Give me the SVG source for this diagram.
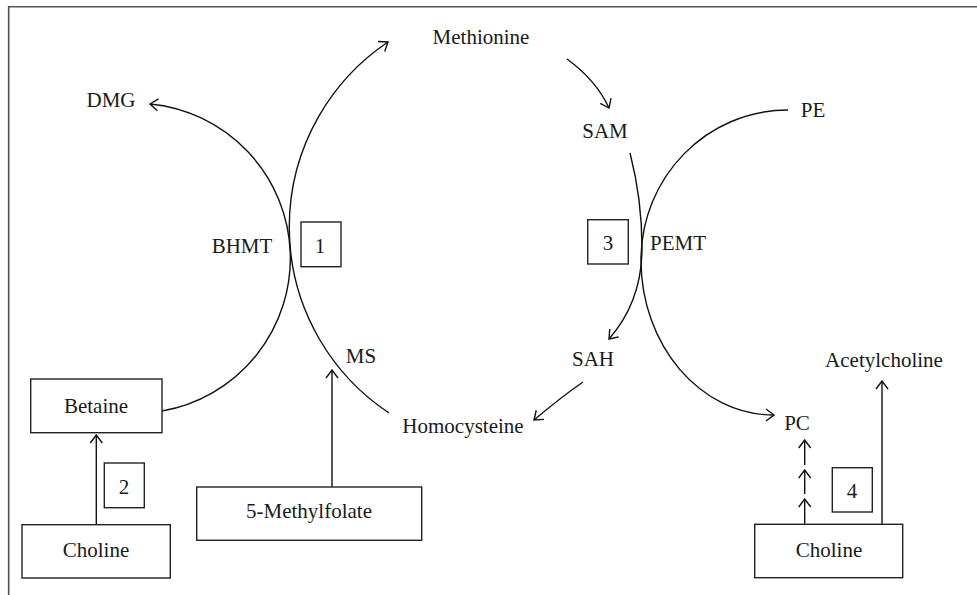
<svg xmlns="http://www.w3.org/2000/svg" width="977" height="595" viewBox="0 0 977 595">
<style>
text{font-family:"Liberation Serif","Times New Roman",serif;font-size:21px;fill:#1a1a1a;text-anchor:middle}
.box{fill:#fff;stroke:#222;stroke-width:1.4}
.c{fill:none;stroke:#111;stroke-width:1.4}
.frame{fill:none;stroke:#555;stroke-width:1.6}
</style>
<defs>
<marker id="ah" viewBox="0 0 10 14" refX="9" refY="7" markerWidth="10" markerHeight="14" markerUnits="userSpaceOnUse" orient="auto">
<path d="M1,1 L9,7 L1,13" fill="none" stroke="#111" stroke-width="1.4"/>
</marker>
</defs>
<rect width="977" height="595" fill="#fff"/>
<path class="frame" d="M8.7,600 L8.7,6.8 L980,6.8"/>
<g id="connectors">
<path class="c" d="M162,411 A155,155 0 0 0 150,104" marker-end="url(#ah)"/>
<path class="c" d="M389,413 A223,223 0 0 1 388,42" marker-end="url(#ah)"/>
<path class="c" d="M567,59 Q596,80 609,108" marker-end="url(#ah)"/>
<path class="c" d="M630,153 C637,180 642,215 642,248 C642,285 630,315 609,339" marker-end="url(#ah)"/>
<path class="c" d="M788,110 C706.8,110 641,177 641,260 C641,345.6 700.5,415 774,415" marker-end="url(#ah)"/>
<path class="c" d="M583,382 Q560,398 534,420" marker-end="url(#ah)"/>
<path class="c" d="M96.3,524 L96.3,435" marker-end="url(#ah)"/>
<path class="c" d="M332,487 L332,370" marker-end="url(#ah)"/>
<path class="c" d="M804.7,524 L804.7,499" marker-end="url(#ah)"/>
<path class="c" d="M804.7,494 L804.7,470" marker-end="url(#ah)"/>
<path class="c" d="M804.7,465 L804.7,440" marker-end="url(#ah)"/>
<path class="c" d="M882,524 L882,381" marker-end="url(#ah)"/>
</g>
<g id="methionine"><text x="481" y="44">Methionine</text></g>
<g id="dmg"><text x="111" y="107">DMG</text></g>
<g id="sam"><text x="605" y="138">SAM</text></g>
<g id="pe"><text x="813" y="117">PE</text></g>
<g id="bhmt"><text x="242" y="253">BHMT</text></g>
<g id="label1"><rect class="box" x="301" y="222" width="40" height="44.7"/><text x="320" y="252.5">1</text></g>
<g id="label3"><rect class="box" x="587.7" y="219.7" width="40.6" height="44.3"/><text x="608" y="250">3</text></g>
<g id="pemt"><text x="678" y="250">PEMT</text></g>
<g id="ms"><text x="361" y="363">MS</text></g>
<g id="sah"><text x="593" y="366">SAH</text></g>
<g id="acetylcholine"><text x="884" y="367">Acetylcholine</text></g>
<g id="homocysteine"><text x="463" y="433">Homocysteine</text></g>
<g id="pc"><text x="797" y="430">PC</text></g>
<g id="betaine"><rect class="box" x="30.7" y="379" width="131.3" height="53.7"/><text x="96" y="412.5">Betaine</text></g>
<g id="label2"><rect class="box" x="104.3" y="463" width="40" height="44.7"/><text x="124" y="494">2</text></g>
<g id="choline-left"><rect class="box" x="22" y="524.7" width="148.3" height="53.3"/><text x="96" y="557">Choline</text></g>
<g id="methylfolate"><rect class="box" x="196.7" y="487" width="225" height="53.3"/><text x="309" y="517.5">5-Methylfolate</text></g>
<g id="label4"><rect class="box" x="832.3" y="467.7" width="40" height="44.3"/><text x="852" y="497.5">4</text></g>
<g id="choline-right"><rect class="box" x="754.7" y="524.3" width="148" height="53.4"/><text x="829" y="557">Choline</text></g>
</svg>
